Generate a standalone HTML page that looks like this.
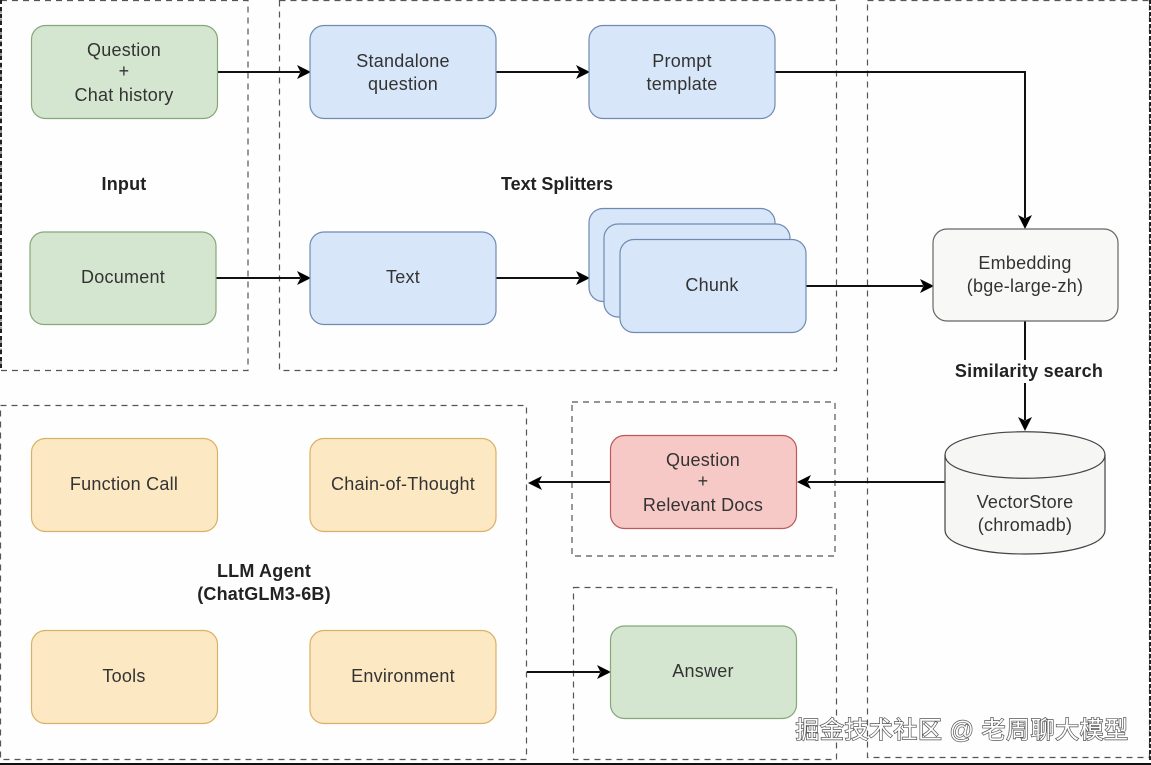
<!DOCTYPE html>
<html><head><meta charset="utf-8"><style>
html,body{margin:0;padding:0;background:#fff;width:1151px;height:765px;overflow:hidden}
svg{display:block;filter:blur(0.35px)}
text{font-family:"Liberation Sans",sans-serif;font-size:18px;letter-spacing:.25px;fill:#333;text-anchor:middle}
.b{font-weight:bold;font-size:18px;fill:#222;letter-spacing:.2px}
.d{fill:none;stroke:#555;stroke-width:1.2;stroke-dasharray:6 5}
.g{fill:#d5e6d0;stroke:#86a877;stroke-width:1.2}
.bl{fill:#d8e6f9;stroke:#6f8bb3;stroke-width:1.2}
.y{fill:#fde8c4;stroke:#d9b166;stroke-width:1.2}
.l{stroke:#111;stroke-width:2;fill:none}
.a{fill:#000}
</style></head><body>
<svg width="1151" height="765" viewBox="0 0 1151 765" xmlns="http://www.w3.org/2000/svg">
<rect width="1151" height="765" fill="#fefefe"/>
<!-- containers -->
<rect class="d" x="1" y="0.5" width="247" height="370"/>
<rect class="d" x="279.5" y="0.5" width="557" height="370"/>
<rect class="d" x="867.5" y="0.5" width="282" height="757"/>
<rect class="d" x="0.5" y="405.5" width="526" height="354"/>
<rect class="d" x="572" y="402" width="263" height="154"/>
<rect class="d" x="573.5" y="587.5" width="263" height="172"/>
<line x1="1" y1="0" x2="1" y2="371" stroke="#222" stroke-width="2" stroke-dasharray="4 3"/>
<line x1="1150" y1="0" x2="1150" y2="760" stroke="#222" stroke-width="2" stroke-dasharray="4 2"/>
<rect x="0" y="763" width="1151" height="2" fill="#111"/>
<!-- connectors -->
<path class="l" d="M218 72H300"/><path class="a" d="M311 72l-14-7 3.500 7-3.500 7z"/>
<path class="l" d="M496 72H579"/><path class="a" d="M590 72l-14-7 3.500 7-3.500 7z"/>
<path class="l" d="M775 72H1025V218"/><path class="a" d="M1025 229l-7-14 7 3.500 7-3.500z"/>
<path class="l" d="M216 278H300"/><path class="a" d="M311 278l-14-7 3.500 7-3.500 7z"/>
<path class="l" d="M496 278H579"/><path class="a" d="M590 278l-14-7 3.500 7-3.500 7z"/>
<path class="l" d="M806 286H923"/><path class="a" d="M934 286l-14-7 3.500 7-3.500 7z"/>
<path class="l" d="M1025 321V420"/><path class="a" d="M1025 431l-7-14 7 3.500 7-3.500z"/>
<path class="l" d="M945 482H808"/><path class="a" d="M797 482l14-7-3.500 7 3.500 7z"/>
<path class="l" d="M610 482H539"/><path class="a" d="M528 483l14-7-3.500 7 3.500 7z"/>
<path class="l" d="M527 672H600"/><path class="a" d="M611 672l-14-7 3.500 7-3.500 7z"/>
<!-- top row -->
<rect class="g" x="31.5" y="25.5" width="186" height="93" rx="14"/>
<text x="124" y="56">Question</text><text x="124" y="77">+</text><text x="124" y="101">Chat history</text>
<rect class="bl" x="310" y="25.5" width="186" height="93" rx="14"/>
<text x="403" y="67">Standalone</text><text x="403" y="90">question</text>
<rect class="bl" x="589" y="25.5" width="186" height="93" rx="14"/>
<text x="682" y="67">Prompt</text><text x="682" y="90">template</text>
<text class="b" x="124" y="190">Input</text>
<text class="b" x="557" y="190" style="letter-spacing:-.05px">Text Splitters</text>
<!-- second row -->
<rect class="g" x="30" y="232" width="186" height="92.500" rx="14"/>
<text x="123" y="283">Document</text>
<rect class="bl" x="310" y="232" width="186" height="92.500" rx="14"/>
<text x="403" y="283">Text</text>
<rect class="bl" x="589" y="208.500" width="186" height="93" rx="14"/>
<rect class="bl" x="604" y="224" width="186" height="93" rx="14"/>
<rect class="bl" x="620" y="239.500" width="186" height="93" rx="14"/>
<text x="712" y="291">Chunk</text>
<rect x="933" y="229" width="185" height="92" rx="14" fill="#f8f8f6" stroke="#666" stroke-width="1.2"/>
<text x="1025" y="269">Embedding</text><text x="1025" y="292">(bge-large-zh)</text>
<rect x="950" y="360" width="150" height="23" fill="#fefefe"/>
<text class="b" x="1029" y="377" style="letter-spacing:.25px">Similarity search</text>
<!-- cylinder -->
<path d="M945 455C945 424 1105 424 1105 455V530C1105 562 945 562 945 530Z" fill="#f6f6f4" stroke="#444" stroke-width="1.2"/>
<path d="M945 455C945 486 1105 486 1105 455" fill="none" stroke="#444" stroke-width="1.2"/>
<text x="1025" y="508">VectorStore</text><text x="1025" y="531">(chromadb)</text>
<!-- red -->
<rect x="610.500" y="435.500" width="186" height="93" rx="14" fill="#f6c9c7" stroke="#bb5a58" stroke-width="1.2"/>
<text x="703" y="466">Question</text><text x="703" y="487">+</text><text x="703" y="511">Relevant Docs</text>
<!-- agent -->
<rect class="y" x="31.500" y="438.500" width="186" height="93" rx="14"/>
<text x="124" y="490">Function Call</text>
<rect class="y" x="310" y="438.500" width="186" height="93" rx="14"/>
<text x="403" y="490">Chain-of-Thought</text>
<text class="b" x="264" y="577">LLM Agent</text><text class="b" x="264" y="600">(ChatGLM3-6B)</text>
<rect class="y" x="31.500" y="630.500" width="186" height="93" rx="14"/>
<text x="124" y="682">Tools</text>
<rect class="y" x="310" y="630.500" width="186" height="93" rx="14"/>
<text x="403" y="682">Environment</text>
<rect class="g" x="610.500" y="626" width="186" height="92.500" rx="14"/>
<text x="703" y="677">Answer</text>
<!-- watermark -->
<text x="962" y="738" style='font-family:"Liberation Sans","Noto Sans CJK SC",sans-serif;font-size:24px;fill:#fff;stroke:#555;stroke-width:1.4;paint-order:stroke;letter-spacing:0.5px'>掘金技术社区 @ 老周聊大模型</text>
</svg>
</body></html>
